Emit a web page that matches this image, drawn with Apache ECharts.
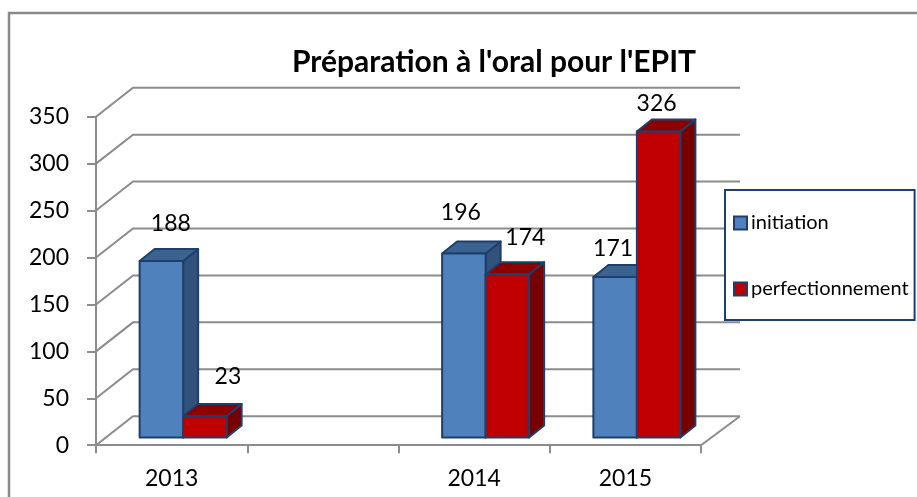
<!DOCTYPE html>
<html><head><meta charset="utf-8">
<style>html,body{margin:0;padding:0;background:#fff}#c{width:917px;height:497px}</style>
<script src="https://cdn.jsdelivr.net/npm/echarts@6/dist/echarts.min.js"></script>
</head><body><div id="c"></div>
<script>
const titleText = "Préparation à l'oral pour l'EPIT";
const categories = ['2013', '', '2014', '2015'];
const seriesNames = ['initiation', 'perfectionnement'];
const initiation = [188, null, 196, 171];
const perfectionnement = [23, null, 174, 326];
const wallTicks = [0, 50, 100, 150, 200, 250, 300, 350];
// nudges of each value label from its bar, [series][category]
const labelNudge = [
  [[9.5, -37], null, [-3, -41], [-2, -28]],
  [[23, -39], null, [18, -37], [-2, -28]]
];
const FONT = 'Lato';
const GRID_COLOR = '#8c8c8c';
const BAR_W = 43.5, BAR_DX = 15, BAR_DY = 12, LIFT = 7.7, SHIFT = 11.5;
const WALL_DX = 37, WALL_DY = 29, FLOOR_RIGHT_DX = 40;

function wallItem(params, api) {
  const band = api.size([1, 0])[0];
  const p = api.coord([0, api.value(0)]);
  const x0 = p[0] - band / 2, xr = x0 + band * categories.length, y = p[1];
  const dyw = WALL_DY;
  const children = [{
    type: 'polyline', silent: true,
    shape: { points: [[x0, y], [x0 + WALL_DX, y - dyw], [xr + FLOOR_RIGHT_DX - 1, y - dyw]] },
    style: { stroke: GRID_COLOR, lineWidth: 2, fill: null }
  }];
  if (api.value(0) === 0) {
    children.push({
      type: 'line', silent: true,
      shape: { x1: xr, y1: y, x2: xr + FLOOR_RIGHT_DX - 1, y2: y - dyw },
      style: { stroke: GRID_COLOR, lineWidth: 2 }
    });
  }
  return { type: 'group', children };
}

function barRenderer(seriesIndex, front, side, top) {
  return function (params, api) {
    const cat = api.value(0), val = api.value(1);
    if (val == null || isNaN(val)) return null;
    const center = api.coord([cat, 0])[0];
    const baseY = api.coord([cat, 0])[1] - LIFT;
    const topY = api.coord([cat, val])[1] - LIFT;
    const x1 = center + SHIFT + (seriesIndex === 0 ? -BAR_W : 0);
    const x2 = x1 + BAR_W;
    const edge = '#1f3f6b';
    const st = (c) => ({ fill: c, stroke: edge, lineWidth: 2, lineJoin: 'round' });
    const nudge = labelNudge[seriesIndex][cat];
    return {
      type: 'group', children: [
        { type: 'polygon', shape: { points: [[x2, baseY], [x2 + BAR_DX, baseY - BAR_DY], [x2 + BAR_DX, topY - BAR_DY], [x2, topY]] }, style: st(side) },
        { type: 'polygon', shape: { points: [[x1, topY], [x1 + BAR_DX, topY - BAR_DY], [x2 + BAR_DX, topY - BAR_DY], [x2, topY]] }, style: st(top) },
        { type: 'rect', shape: { x: x1, y: topY, width: BAR_W, height: baseY - topY }, style: st(front) },
        { type: 'text', z2: 10, style: { text: String(val), x: (x1 + x2) / 2 + nudge[0], y: topY + nudge[1], align: 'center', verticalAlign: 'middle', fill: '#000', font: '23px ' + FONT } }
      ]
    };
  };
}

const chart = echarts.init(document.getElementById('c'), null, { renderer: 'canvas' });
chart.setOption({
  animation: false,
  backgroundColor: '#fff',
  title: { text: titleText, left: 489, top: 42, textAlign: 'center', textStyle: { fontFamily: FONT, fontSize: 30, fontWeight: 'bold', color: '#000' } },
  graphic: [{ type: 'rect', z: -1, shape: { x: 9, y: 13, width: 930, height: 510 }, style: { fill: '#fff', stroke: '#8a8a8a', lineWidth: 2.5 } }],
  grid: { left: 96, right: 216, top: 116.7, bottom: 51.8 },
  legend: {
    data: seriesNames, orient: 'vertical', left: 725, top: 190,
    padding: [23, 6, 21, 8], itemGap: 46, itemWidth: 13, itemHeight: 13,
    icon: 'rect',
    borderColor: '#1f3f6b', borderWidth: 2, backgroundColor: '#fff',
    textStyle: { fontFamily: FONT, fontSize: 20, color: '#000', padding: [0, 0, 0, -1] }
  },
  xAxis: {
    type: 'category', data: categories,
    axisLine: { show: true, lineStyle: { color: GRID_COLOR, width: 2 } },
    axisTick: { show: true, alignWithLabel: false, length: 8, lineStyle: { color: GRID_COLOR, width: 2 } },
    axisLabel: { fontFamily: FONT, fontSize: 23, color: '#000', margin: 22, interval: 0 },
    splitLine: { show: false }
  },
  yAxis: {
    type: 'value', min: 0, max: 350, interval: 50,
    axisLine: { show: true, lineStyle: { color: GRID_COLOR, width: 2 } },
    axisTick: { show: true, length: 9, lineStyle: { color: GRID_COLOR, width: 2 } },
    axisLabel: { fontFamily: FONT, fontSize: 23, color: '#000', margin: 27 },
    splitLine: { show: false }
  },
  series: [
    { type: 'custom', name: 'wall', z: 1, clip: false, silent: true, encode: { y: 0 }, data: wallTicks.map(v => [v]), renderItem: wallItem },
    { type: 'custom', name: seriesNames[0], z: 2, clip: false, encode: { x: 0, y: 1 }, itemStyle: { color: '#4F81BD', borderColor: '#1f3f6b', borderWidth: 2 },
      data: initiation.map((v, i) => [i, v]), renderItem: barRenderer(0, '#4F81BD', '#31527A', '#3B6391') },
    { type: 'custom', name: seriesNames[1], z: 3, clip: false, encode: { x: 0, y: 1 }, itemStyle: { color: '#C00000', borderColor: '#1f3f6b', borderWidth: 2 },
      data: perfectionnement.map((v, i) => [i, v]), renderItem: barRenderer(1, '#C00000', '#770000', '#8C0000') }
  ]
});
</script></body></html>
